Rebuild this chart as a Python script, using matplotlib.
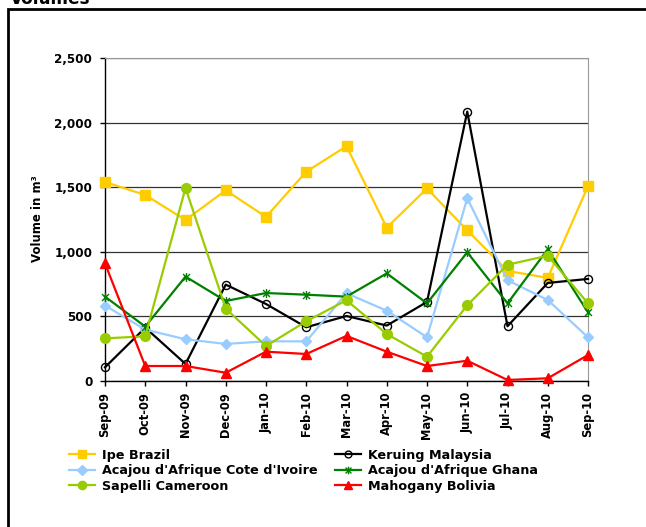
import matplotlib.pyplot as plt
from matplotlib.path import Path
from matplotlib.patches import Rectangle
from matplotlib.ticker import FuncFormatter

months = ['Sep-09', 'Oct-09', 'Nov-09', 'Dec-09', 'Jan-10', 'Feb-10', 'Mar-10',
          'Apr-10', 'May-10', 'Jun-10', 'Jul-10', 'Aug-10', 'Sep-10']

ipe_brazil = [1540, 1440, 1246, 1476, 1270, 1620, 1817, 1187, 1490, 1166, 852, 798, 1508]
keruing_malaysia = [106, 413, 132, 746, 596, 416, 503, 429, 612, 2085, 424, 759, 790]
acajou_ci = [584, 398, 323, 287, 307, 307, 679, 544, 338, 1415, 780, 627, 338]
acajou_ghana = [653, 421, 808, 619, 681, 668, 653, 833, 601, 996, 601, 1020, 531]
sapelli_cameroon = [330, 346, 1494, 560, 271, 462, 625, 364, 188, 586, 900, 970, 601]
mahogany_bolivia = [910, 116, 116, 64, 227, 209, 349, 227, 116, 157, 8, 21, 201]

plt.rcParams['font.family'] = ['DejaVu Sans']
plt.rcParams['font.weight'] = 'bold'

# asterisk marker: an x with a vertical bar through it
star = Path([(-1, -1), (1, 1), (-1, 1), (1, -1), (0, -1.3), (0, 1.3)],
            [Path.MOVETO, Path.LINETO, Path.MOVETO, Path.LINETO, Path.MOVETO, Path.LINETO])

W, H = 646, 527
fig = plt.figure(figsize=(W / 100, H / 100), dpi=100)
ax = fig.add_axes([105 / W, (H - 381) / H, 483 / W, 323 / H])

x = range(len(months))
lw = 1.6
l_ipe, = ax.plot(x, ipe_brazil, color='#FFCC00', lw=lw, marker='s', ms=7,
                 label='Ipe Brazil', clip_on=False, zorder=3)
l_ker, = ax.plot(x, keruing_malaysia, color='black', lw=lw, marker='o', ms=5.8,
                 mfc='none', mec='black', mew=1, label='Keruing Malaysia', clip_on=False, zorder=3)
l_aci, = ax.plot(x, acajou_ci, color='#99CCFF', lw=lw, marker='D', ms=5.5,
                 label="Acajou d'Afrique Cote d'Ivoire", clip_on=False, zorder=3)
l_agh, = ax.plot(x, acajou_ghana, color='#008000', lw=lw, marker=star, ms=6.5, mew=1,
                 label="Acajou d'Afrique Ghana", clip_on=False, zorder=3)
l_sap, = ax.plot(x, sapelli_cameroon, color='#99CC00', lw=lw, marker='o', ms=7,
                 label='Sapelli Cameroon', clip_on=False, zorder=3)
l_mah, = ax.plot(x, mahogany_bolivia, color='#FF0000', lw=lw, marker='^', ms=7,
                 label='Mahogany Bolivia', clip_on=False, zorder=3)

ax.set_xlim(0, len(months) - 1)
ax.set_ylim(0, 2500)
ax.set_yticks(range(0, 2501, 500))
ax.yaxis.set_major_formatter(FuncFormatter(lambda v, p: f'{int(v):,}'))
ax.set_xticks(list(x))
ax.set_xticklabels(months, rotation=90)
ax.tick_params(axis='both', direction='out', length=3.6, width=1)
ax.tick_params(axis='x', labelsize=8.3, pad=4.3)
ax.tick_params(axis='y', labelsize=8.6, pad=5.5)
ax.grid(axis='y', color='#333333', lw=0.9)
ax.set_axisbelow(True)

for side in ['top', 'right']:
    ax.spines[side].set_color('#999999')
for side in ['left', 'bottom']:
    ax.spines[side].set_color('black')
    ax.spines[side].set_linewidth(1)

fig.text(37.5 / W, 1 - 218.5 / H, 'Volume in m³', rotation=90, fontsize=8.5,
         ha='center', va='center')

handles = [l_ipe, l_aci, l_sap, l_ker, l_agh, l_mah]
fig.legend(handles=handles, labels=[h.get_label() for h in handles], ncol=2,
           loc='upper left', bbox_to_anchor=(69 / W, 1 - 448.5 / H), frameon=False,
           fontsize=9.2, handlelength=2.03, handletextpad=0.55, columnspacing=1.33,
           labelspacing=0.2, borderpad=0, borderaxespad=0, markerscale=0.85)

# outer frame
fig.add_artist(Rectangle((8 / W, -0.1), 1.2, 1 - 9 / H + 0.1, transform=fig.transFigure,
                         fill=False, ec='black', lw=2))
fig.text(10 / W, 1 - 3.5 / H, 'Volumes', fontsize=12.2, va='baseline', ha='left')

fig.savefig('out.png', dpi=100)
